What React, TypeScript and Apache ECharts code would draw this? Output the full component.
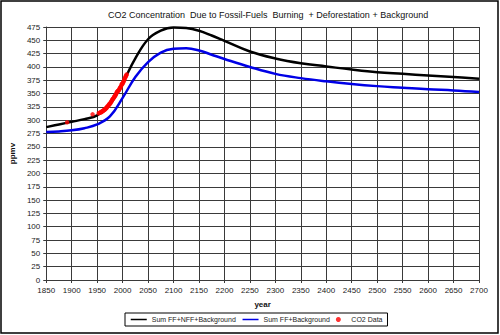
import React, { useEffect, useRef } from "react";
import * as echarts from "echarts";

const titleText = "CO2 Concentration  Due to Fossil-Fuels  Burning  + Deforestation + Background";

const modelYears = [1850, 1875, 1900, 1925, 1950, 1975, 2000, 2025, 2050, 2075, 2100, 2125, 2150, 2175, 2200, 2250, 2300, 2350, 2400, 2450, 2500, 2550, 2600, 2650, 2700];
const sumFFNFFBg = [287, 292, 297, 302, 309, 330, 370, 416, 452, 468, 474, 473, 468, 459, 449, 429, 416, 407, 401, 395, 390, 387, 384, 381, 378];
const sumFFBg = [278, 279, 281, 285, 292, 307, 342, 381, 409, 427, 434, 435, 431, 423, 415, 400, 387, 379, 373, 368, 364, 361, 358, 356, 353];

const co2Years = [1891, 1941, 1953, 1955, 1957, 1958, 1959, 1960, 1961, 1962, 1963, 1964, 1965, 1966, 1967, 1968, 1969, 1970, 1971, 1972, 1973, 1974, 1975, 1976, 1977, 1978, 1979, 1980, 1981, 1982, 1983, 1984, 1985, 1986, 1987, 1988, 1989, 1990, 1991, 1992, 1993, 1994, 1995, 1996, 1997, 1998, 1999, 2000, 2001, 2002, 2003, 2004, 2005, 2006, 2007, 2008];
const co2Values = [296, 311, 313, 314, 315, 315, 316, 317, 317, 318, 319, 319, 320, 321, 322, 323, 324, 326, 326, 327, 329, 330, 331, 332, 334, 335, 337, 339, 340, 341, 343, 344, 346, 347, 349, 351, 353, 354, 355, 356, 357, 359, 361, 362, 364, 367, 368, 369, 371, 373, 375, 378, 380, 382, 384, 386];

const seriesNames = ["Sum FF+NFF+Background", "Sum FF+Background", "CO2 Data"];

export default function App() {
  const ref = useRef<HTMLDivElement>(null);
  useEffect(() => {
    if (!ref.current) return;
    const chart = echarts.init(ref.current, null, { renderer: "svg" });
    const font = "Liberation Sans, Arial, sans-serif";
    const gridColor = "#3a3a3a";
    chart.setOption({
      animation: false,
      backgroundColor: "#fff",
      textStyle: { fontFamily: font },
      title: {
        text: titleText,
        left: 103,
        top: 5,
        textStyle: { fontSize: 9, fontWeight: "normal", color: "#111", fontFamily: font },
      },
      grid: { left: 37, right: 21, top: 27, bottom: 55 },
      xAxis: {
        type: "value",
        min: 1850,
        max: 2700,
        interval: 50,
        name: "year",
        nameLocation: "middle",
        nameGap: 20,
        nameTextStyle: { fontSize: 8, fontWeight: "bold", color: "#111" },
        axisLine: { show: true, lineStyle: { color: gridColor, width: 1 } },
        axisTick: { show: true, length: 3, lineStyle: { color: gridColor } },
        axisLabel: { fontSize: 8, color: "#222", margin: 6, formatter: (v: number) => String(v) },
        splitLine: { show: true, lineStyle: { color: gridColor, width: 1 } },
      },
      yAxis: {
        type: "value",
        min: 0,
        max: 475,
        interval: 25,
        name: "ppmv",
        nameLocation: "middle",
        nameGap: 26,
        nameTextStyle: { fontSize: 8, fontWeight: "bold", color: "#111" },
        axisLine: { show: true, lineStyle: { color: gridColor, width: 1 } },
        axisTick: { show: true, length: 3, lineStyle: { color: gridColor } },
        axisLabel: { fontSize: 8, color: "#222", margin: 6 },
        splitLine: { show: true, lineStyle: { color: gridColor, width: 1 } },
      },
      legend: {
        left: 125,
        top: 313,
        data: [
          { name: seriesNames[0], itemStyle: { opacity: 0 } },
          { name: seriesNames[1], itemStyle: { opacity: 0 } },
          { name: seriesNames[2] },
        ],
        borderColor: "#000",
        borderWidth: 1,
        borderRadius: 0,
        padding: [3, 5],
        itemWidth: 16,
        itemHeight: 5,
        itemGap: 6,
        textStyle: { fontSize: 7, color: "#222", fontFamily: font },
        lineStyle: { width: 1.5 },
      },
      graphic: [
        {
          type: "rect",
          shape: { x: 1, y: 1, width: 497, height: 332 },
          style: { fill: "none", stroke: "#000", lineWidth: 1.5 },
          silent: true,
        },
      ],
      series: [
        {
          name: seriesNames[0],
          type: "line",
          data: modelYears.map((y, i) => [y, sumFFNFFBg[i]]),
          smooth: 0.4,
          showSymbol: false,
          lineStyle: { color: "#000", width: 2.5 },
          itemStyle: { color: "#000" },
          z: 2,
        },
        {
          name: seriesNames[1],
          type: "line",
          data: modelYears.map((y, i) => [y, sumFFBg[i]]),
          smooth: 0.4,
          showSymbol: false,
          lineStyle: { color: "#0000e6", width: 2.5 },
          itemStyle: { color: "#0000e6" },
          z: 2,
        },
        {
          name: seriesNames[2],
          type: "scatter",
          data: co2Years.map((y, i) => [y, co2Values[i]]),
          symbol: "circle",
          symbolSize: 4.5,
          itemStyle: { color: "#f00" },
          z: 3,
        },
      ],
    });
    return () => chart.dispose();
  }, []);
  return (
    <div
      ref={ref}
      style={{ position: "fixed", left: 0, top: 0, width: 500, height: 335 }}
    />
  );
}
